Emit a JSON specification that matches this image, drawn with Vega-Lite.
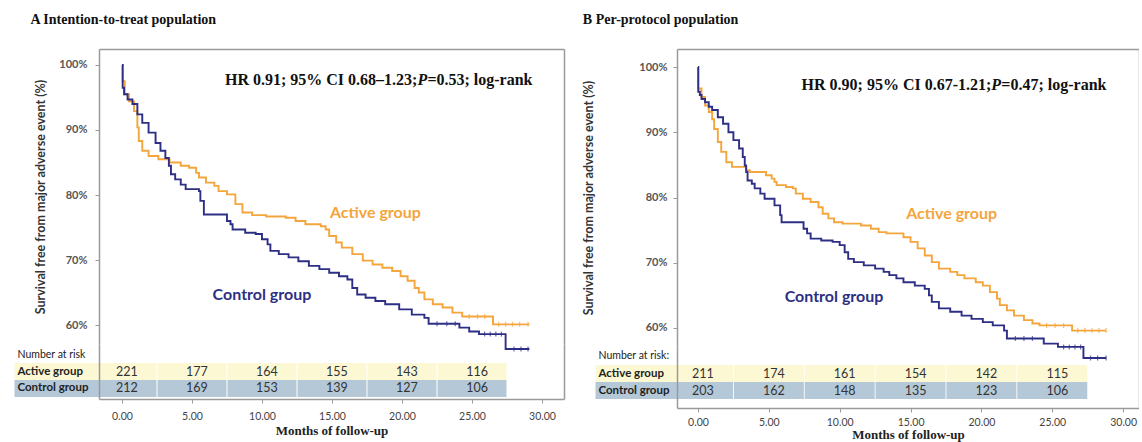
{
  "$schema": "https://vega.github.io/schema/vega-lite/v6.json",
  "background": "white",
  "padding": {"left": 5, "top": 13, "right": 0, "bottom": 0},
  "spacing": 18,
  "config": {
    "view": {"stroke": null},
    "axis": {"grid": false, "domainColor": "#9a9a9a", "domainWidth": 1.5, "tickColor": "#9a9a9a", "labelFont": "Lato", "titleFont": "Lato"},
    "text": {"font": "Lato"}
  },
  "datasets": {
    "km": [
      {"panel":"A","group":"Active group","time":0,"surv":100},{"panel":"A","group":"Active group","time":0.05,"surv":97.5},{"panel":"A","group":"Active group","time":0.2,"surv":95.5},{"panel":"A","group":"Active group","time":0.5,"surv":94.4},{"panel":"A","group":"Active group","time":0.86,"surv":92.9},{"panel":"A","group":"Active group","time":1.1,"surv":90.4},{"panel":"A","group":"Active group","time":1.2,"surv":88.3},{"panel":"A","group":"Active group","time":1.45,"surv":86.8},{"panel":"A","group":"Active group","time":1.9,"surv":86.0},{"panel":"A","group":"Active group","time":2.6,"surv":85.5},{"panel":"A","group":"Active group","time":3.4,"surv":85.0},{"panel":"A","group":"Active group","time":4.2,"surv":84.5},{"panel":"A","group":"Active group","time":4.8,"surv":84.2},{"panel":"A","group":"Active group","time":5.3,"surv":83.4},{"panel":"A","group":"Active group","time":5.5,"surv":82.7},{"panel":"A","group":"Active group","time":6.0,"surv":81.9},{"panel":"A","group":"Active group","time":6.6,"surv":81.4},{"panel":"A","group":"Active group","time":6.9,"surv":80.6},{"panel":"A","group":"Active group","time":7.5,"surv":80.1},{"panel":"A","group":"Active group","time":8.1,"surv":78.6},{"panel":"A","group":"Active group","time":8.6,"surv":77.3},{"panel":"A","group":"Active group","time":9.3,"surv":76.9},{"panel":"A","group":"Active group","time":10.3,"surv":76.7},{"panel":"A","group":"Active group","time":11.7,"surv":76.5},{"panel":"A","group":"Active group","time":12.4,"surv":76.0},{"panel":"A","group":"Active group","time":13.1,"surv":75.5},{"panel":"A","group":"Active group","time":14.2,"surv":75.2},{"panel":"A","group":"Active group","time":14.55,"surv":74.7},{"panel":"A","group":"Active group","time":14.8,"surv":73.7},{"panel":"A","group":"Active group","time":15.3,"surv":72.7},{"panel":"A","group":"Active group","time":15.7,"surv":71.9},{"panel":"A","group":"Active group","time":16.45,"surv":70.9},{"panel":"A","group":"Active group","time":17.2,"surv":69.9},{"panel":"A","group":"Active group","time":17.9,"surv":69.3},{"panel":"A","group":"Active group","time":18.6,"surv":68.8},{"panel":"A","group":"Active group","time":19.3,"surv":68.3},{"panel":"A","group":"Active group","time":19.9,"surv":67.5},{"panel":"A","group":"Active group","time":20.4,"surv":66.8},{"panel":"A","group":"Active group","time":20.9,"surv":65.7},{"panel":"A","group":"Active group","time":21.2,"surv":65.0},{"panel":"A","group":"Active group","time":21.6,"surv":63.95},{"panel":"A","group":"Active group","time":22.2,"surv":63.2},{"panel":"A","group":"Active group","time":22.9,"surv":62.7},{"panel":"A","group":"Active group","time":23.6,"surv":61.9},{"panel":"A","group":"Active group","time":24.3,"surv":61.3},{"panel":"A","group":"Active group","time":26.5,"surv":60.1},{"panel":"A","group":"Active group","time":29.1,"surv":60.1},
      {"panel":"A","group":"Control group","time":0,"surv":100},{"panel":"A","group":"Control group","time":0.05,"surv":96.5},{"panel":"A","group":"Control group","time":0.15,"surv":95.5},{"panel":"A","group":"Control group","time":0.4,"surv":94.7},{"panel":"A","group":"Control group","time":0.75,"surv":94.0},{"panel":"A","group":"Control group","time":1.1,"surv":92.4},{"panel":"A","group":"Control group","time":1.45,"surv":91.1},{"panel":"A","group":"Control group","time":1.9,"surv":89.6},{"panel":"A","group":"Control group","time":2.4,"surv":88.0},{"panel":"A","group":"Control group","time":2.75,"surv":86.8},{"panel":"A","group":"Control group","time":3.1,"surv":85.7},{"panel":"A","group":"Control group","time":3.35,"surv":84.5},{"panel":"A","group":"Control group","time":3.5,"surv":83.2},{"panel":"A","group":"Control group","time":3.8,"surv":82.4},{"panel":"A","group":"Control group","time":4.2,"surv":81.6},{"panel":"A","group":"Control group","time":4.55,"surv":80.9},{"panel":"A","group":"Control group","time":5.5,"surv":80.6},{"panel":"A","group":"Control group","time":5.6,"surv":79.1},{"panel":"A","group":"Control group","time":5.85,"surv":77.0},{"panel":"A","group":"Control group","time":7.5,"surv":76.0},{"panel":"A","group":"Control group","time":7.75,"surv":75.5},{"panel":"A","group":"Control group","time":7.9,"surv":74.7},{"panel":"A","group":"Control group","time":8.8,"surv":74.2},{"panel":"A","group":"Control group","time":9.55,"surv":74.0},{"panel":"A","group":"Control group","time":10.0,"surv":73.2},{"panel":"A","group":"Control group","time":10.4,"surv":72.4},{"panel":"A","group":"Control group","time":10.6,"surv":71.4},{"panel":"A","group":"Control group","time":11.2,"surv":70.9},{"panel":"A","group":"Control group","time":11.9,"surv":70.4},{"panel":"A","group":"Control group","time":12.6,"surv":69.8},{"panel":"A","group":"Control group","time":13.35,"surv":69.1},{"panel":"A","group":"Control group","time":14.1,"surv":68.6},{"panel":"A","group":"Control group","time":14.8,"surv":68.05},{"panel":"A","group":"Control group","time":15.5,"surv":67.5},{"panel":"A","group":"Control group","time":16.1,"surv":67.0},{"panel":"A","group":"Control group","time":16.45,"surv":65.7},{"panel":"A","group":"Control group","time":16.8,"surv":64.7},{"panel":"A","group":"Control group","time":17.4,"surv":64.2},{"panel":"A","group":"Control group","time":18.1,"surv":63.7},{"panel":"A","group":"Control group","time":18.8,"surv":63.2},{"panel":"A","group":"Control group","time":19.8,"surv":62.4},{"panel":"A","group":"Control group","time":20.7,"surv":61.6},{"panel":"A","group":"Control group","time":21.6,"surv":61.1},{"panel":"A","group":"Control group","time":21.9,"surv":60.2},{"panel":"A","group":"Control group","time":24.1,"surv":59.6},{"panel":"A","group":"Control group","time":24.8,"surv":59.0},{"panel":"A","group":"Control group","time":25.5,"surv":58.6},{"panel":"A","group":"Control group","time":27.4,"surv":56.3},{"panel":"A","group":"Control group","time":29.1,"surv":56.3},
      {"panel":"B","group":"Active group","time":0,"surv":100},{"panel":"B","group":"Active group","time":0.02,"surv":96.7},{"panel":"B","group":"Active group","time":0.25,"surv":95.4},{"panel":"B","group":"Active group","time":0.5,"surv":94.1},{"panel":"B","group":"Active group","time":0.76,"surv":93.1},{"panel":"B","group":"Active group","time":1.0,"surv":92.0},{"panel":"B","group":"Active group","time":1.14,"surv":90.5},{"panel":"B","group":"Active group","time":1.4,"surv":88.5},{"panel":"B","group":"Active group","time":1.64,"surv":87.0},{"panel":"B","group":"Active group","time":2.0,"surv":85.4},{"panel":"B","group":"Active group","time":2.4,"surv":84.7},{"panel":"B","group":"Active group","time":3.4,"surv":84.2},{"panel":"B","group":"Active group","time":3.66,"surv":83.9},{"panel":"B","group":"Active group","time":4.8,"surv":83.4},{"panel":"B","group":"Active group","time":5.2,"surv":82.9},{"panel":"B","group":"Active group","time":5.4,"surv":82.4},{"panel":"B","group":"Active group","time":5.55,"surv":81.9},{"panel":"B","group":"Active group","time":6.2,"surv":81.6},{"panel":"B","group":"Active group","time":6.7,"surv":81.4},{"panel":"B","group":"Active group","time":6.9,"surv":80.6},{"panel":"B","group":"Active group","time":7.4,"surv":79.8},{"panel":"B","group":"Active group","time":7.95,"surv":79.3},{"panel":"B","group":"Active group","time":8.5,"surv":78.5},{"panel":"B","group":"Active group","time":8.8,"surv":77.5},{"panel":"B","group":"Active group","time":9.2,"surv":76.8},{"panel":"B","group":"Active group","time":9.6,"surv":76.2},{"panel":"B","group":"Active group","time":10.2,"surv":76.0},{"panel":"B","group":"Active group","time":11.5,"surv":75.7},{"panel":"B","group":"Active group","time":12.2,"surv":75.2},{"panel":"B","group":"Active group","time":12.75,"surv":74.7},{"panel":"B","group":"Active group","time":13.3,"surv":74.5},{"panel":"B","group":"Active group","time":14.5,"surv":73.9},{"panel":"B","group":"Active group","time":15.0,"surv":73.2},{"panel":"B","group":"Active group","time":15.5,"surv":72.2},{"panel":"B","group":"Active group","time":16.0,"surv":71.1},{"panel":"B","group":"Active group","time":16.5,"surv":70.1},{"panel":"B","group":"Active group","time":17.0,"surv":69.1},{"panel":"B","group":"Active group","time":17.8,"surv":68.6},{"panel":"B","group":"Active group","time":18.3,"surv":68.1},{"panel":"B","group":"Active group","time":18.8,"surv":67.6},{"panel":"B","group":"Active group","time":19.6,"surv":67.0},{"panel":"B","group":"Active group","time":20.1,"surv":66.5},{"panel":"B","group":"Active group","time":20.6,"surv":65.5},{"panel":"B","group":"Active group","time":21.1,"surv":64.5},{"panel":"B","group":"Active group","time":21.3,"surv":63.5},{"panel":"B","group":"Active group","time":21.8,"surv":62.7},{"panel":"B","group":"Active group","time":22.3,"surv":61.9},{"panel":"B","group":"Active group","time":23.0,"surv":61.2},{"panel":"B","group":"Active group","time":23.6,"surv":60.7},{"panel":"B","group":"Active group","time":24.1,"surv":60.4},{"panel":"B","group":"Active group","time":26.4,"surv":59.6},{"panel":"B","group":"Active group","time":28.8,"surv":59.6},
      {"panel":"B","group":"Control group","time":0,"surv":100},{"panel":"B","group":"Control group","time":0.02,"surv":96.2},{"panel":"B","group":"Control group","time":0.13,"surv":95.7},{"panel":"B","group":"Control group","time":0.25,"surv":95.1},{"panel":"B","group":"Control group","time":0.5,"surv":94.6},{"panel":"B","group":"Control group","time":0.76,"surv":93.9},{"panel":"B","group":"Control group","time":1.0,"surv":93.4},{"panel":"B","group":"Control group","time":1.4,"surv":92.3},{"panel":"B","group":"Control group","time":1.77,"surv":91.3},{"panel":"B","group":"Control group","time":2.15,"surv":90.0},{"panel":"B","group":"Control group","time":2.5,"surv":88.8},{"panel":"B","group":"Control group","time":2.9,"surv":87.5},{"panel":"B","group":"Control group","time":3.16,"surv":86.2},{"panel":"B","group":"Control group","time":3.3,"surv":84.9},{"panel":"B","group":"Control group","time":3.4,"surv":83.9},{"panel":"B","group":"Control group","time":3.5,"surv":82.6},{"panel":"B","group":"Control group","time":3.8,"surv":82.1},{"panel":"B","group":"Control group","time":4.0,"surv":81.4},{"panel":"B","group":"Control group","time":4.4,"surv":80.6},{"panel":"B","group":"Control group","time":4.7,"surv":79.8},{"panel":"B","group":"Control group","time":5.4,"surv":78.8},{"panel":"B","group":"Control group","time":5.8,"surv":77.3},{"panel":"B","group":"Control group","time":5.9,"surv":76.2},{"panel":"B","group":"Control group","time":7.45,"surv":75.2},{"panel":"B","group":"Control group","time":7.7,"surv":74.5},{"panel":"B","group":"Control group","time":7.95,"surv":73.7},{"panel":"B","group":"Control group","time":8.7,"surv":73.4},{"panel":"B","group":"Control group","time":9.5,"surv":73.2},{"panel":"B","group":"Control group","time":10.0,"surv":72.7},{"panel":"B","group":"Control group","time":10.35,"surv":71.6},{"panel":"B","group":"Control group","time":10.6,"surv":70.6},{"panel":"B","group":"Control group","time":11.0,"surv":70.1},{"panel":"B","group":"Control group","time":11.7,"surv":69.6},{"panel":"B","group":"Control group","time":12.5,"surv":69.1},{"panel":"B","group":"Control group","time":13.1,"surv":68.6},{"panel":"B","group":"Control group","time":13.5,"surv":68.1},{"panel":"B","group":"Control group","time":14.0,"surv":67.6},{"panel":"B","group":"Control group","time":14.5,"surv":67.0},{"panel":"B","group":"Control group","time":15.3,"surv":66.5},{"panel":"B","group":"Control group","time":16.0,"surv":66.0},{"panel":"B","group":"Control group","time":16.3,"surv":65.0},{"panel":"B","group":"Control group","time":16.5,"surv":64.0},{"panel":"B","group":"Control group","time":17.0,"surv":63.0},{"panel":"B","group":"Control group","time":17.8,"surv":62.5},{"panel":"B","group":"Control group","time":18.6,"surv":61.9},{"panel":"B","group":"Control group","time":19.3,"surv":61.4},{"panel":"B","group":"Control group","time":20.1,"surv":60.9},{"panel":"B","group":"Control group","time":20.8,"surv":60.4},{"panel":"B","group":"Control group","time":21.6,"surv":59.6},{"panel":"B","group":"Control group","time":21.8,"surv":58.4},{"panel":"B","group":"Control group","time":24.4,"surv":57.6},{"panel":"B","group":"Control group","time":25.4,"surv":57.1},{"panel":"B","group":"Control group","time":27.2,"surv":55.4},{"panel":"B","group":"Control group","time":28.8,"surv":55.4}
    ],
    "censor": [
      {"panel":"A","group":"Active group","time":24.8,"surv":61.3},{"panel":"A","group":"Active group","time":25.4,"surv":61.3},{"panel":"A","group":"Active group","time":25.9,"surv":61.3},{"panel":"A","group":"Active group","time":26.9,"surv":60.1},{"panel":"A","group":"Active group","time":27.4,"surv":60.1},{"panel":"A","group":"Active group","time":27.9,"surv":60.1},{"panel":"A","group":"Active group","time":28.4,"surv":60.1},{"panel":"A","group":"Active group","time":29.0,"surv":60.1},
      {"panel":"A","group":"Control group","time":22.5,"surv":60.2},{"panel":"A","group":"Control group","time":23.2,"surv":60.2},{"panel":"A","group":"Control group","time":23.8,"surv":60.2},{"panel":"A","group":"Control group","time":25.9,"surv":58.6},{"panel":"A","group":"Control group","time":26.3,"surv":58.6},{"panel":"A","group":"Control group","time":26.7,"surv":58.6},{"panel":"A","group":"Control group","time":27.1,"surv":58.6},{"panel":"A","group":"Control group","time":28.0,"surv":56.3},{"panel":"A","group":"Control group","time":28.5,"surv":56.3},{"panel":"A","group":"Control group","time":29.0,"surv":56.3},
      {"panel":"B","group":"Active group","time":24.6,"surv":60.4},{"panel":"B","group":"Active group","time":25.2,"surv":60.4},{"panel":"B","group":"Active group","time":25.8,"surv":60.4},{"panel":"B","group":"Active group","time":26.8,"surv":59.6},{"panel":"B","group":"Active group","time":27.3,"surv":59.6},{"panel":"B","group":"Active group","time":27.8,"surv":59.6},{"panel":"B","group":"Active group","time":28.3,"surv":59.6},{"panel":"B","group":"Active group","time":28.8,"surv":59.6},
      {"panel":"B","group":"Control group","time":22.4,"surv":58.4},{"panel":"B","group":"Control group","time":23.0,"surv":58.4},{"panel":"B","group":"Control group","time":23.6,"surv":58.4},{"panel":"B","group":"Control group","time":25.8,"surv":57.1},{"panel":"B","group":"Control group","time":26.2,"surv":57.1},{"panel":"B","group":"Control group","time":26.6,"surv":57.1},{"panel":"B","group":"Control group","time":27.0,"surv":57.1},{"panel":"B","group":"Control group","time":27.7,"surv":55.4},{"panel":"B","group":"Control group","time":28.2,"surv":55.4},{"panel":"B","group":"Control group","time":28.8,"surv":55.4}
    ],
    "risk": [
      {"panel":"A","row":"Active group","time":0,"n":221},{"panel":"A","row":"Active group","time":5,"n":177},{"panel":"A","row":"Active group","time":10,"n":164},{"panel":"A","row":"Active group","time":15,"n":155},{"panel":"A","row":"Active group","time":20,"n":143},{"panel":"A","row":"Active group","time":25,"n":116},
      {"panel":"A","row":"Control group","time":0,"n":212},{"panel":"A","row":"Control group","time":5,"n":169},{"panel":"A","row":"Control group","time":10,"n":153},{"panel":"A","row":"Control group","time":15,"n":139},{"panel":"A","row":"Control group","time":20,"n":127},{"panel":"A","row":"Control group","time":25,"n":106},
      {"panel":"B","row":"Active group","time":0,"n":211},{"panel":"B","row":"Active group","time":5,"n":174},{"panel":"B","row":"Active group","time":10,"n":161},{"panel":"B","row":"Active group","time":15,"n":154},{"panel":"B","row":"Active group","time":20,"n":142},{"panel":"B","row":"Active group","time":25,"n":115},
      {"panel":"B","row":"Control group","time":0,"n":203},{"panel":"B","row":"Control group","time":5,"n":162},{"panel":"B","row":"Control group","time":10,"n":148},{"panel":"B","row":"Control group","time":15,"n":135},{"panel":"B","row":"Control group","time":20,"n":123},{"panel":"B","row":"Control group","time":25,"n":106}
    ]
  },
  "hconcat": [
    {
      "title": {"text": "A  Intention-to-treat population", "anchor": "start", "frame": "bounds", "font": "Liberation Serif", "fontSize": 14, "fontWeight": "bold", "color": "#111111", "dx": 25, "offset": 22},
      "spacing": 0,
      "bounds": "flush",
      "vconcat": [
        {
          "width": 465, "height": 295,
          "layer": [
            {
              "data": {"name": "km"}, "transform": [{"filter": "datum.panel === 'A'"}],
              "mark": {"type": "line", "interpolate": "step-after", "strokeWidth": 1.9},
              "encoding": {
                "x": {"field": "time", "type": "quantitative", "scale": {"domain": [-1.64, 31.57], "nice": false, "zero": false},
                      "axis": {"orient": "top", "labels": false, "ticks": false, "title": null}},
                "y": {"field": "surv", "type": "quantitative", "scale": {"domain": [57.08, 102.46], "nice": false, "zero": false},
                      "axis": {"values": [60, 70, 80, 90, 100], "labelExpr": "datum.value + '%'", "tickSize": 4, "labelPadding": 8, "labelFontSize": 11, "labelFontWeight": "bold", "labelColor": "#555555",
                               "title": "Survival free from major adverse event (%)", "titleFontSize": 12.5, "titleFontWeight": "bold", "titleColor": "#333333", "titlePadding": 11}},
                "color": {"field": "group", "type": "nominal", "scale": {"domain": ["Active group", "Control group"], "range": ["#f4a53c", "#2d2f85"]}, "legend": null}
              }
            },
            {
              "data": {"name": "censor"}, "transform": [{"filter": "datum.panel === 'A'"}],
              "mark": {"type": "tick", "orient": "vertical", "size": 5, "thickness": 1.2},
              "encoding": {
                "x": {"field": "time", "type": "quantitative"},
                "y": {"field": "surv", "type": "quantitative", "axis": {"orient": "right", "labels": false, "ticks": false, "title": null}},
                "color": {"field": "group", "type": "nominal", "legend": null}
              }
            },
            {
              "data": {"values": [{}]},
              "mark": {"type": "text", "align": "center", "baseline": "middle", "fontSize": 16, "fontWeight": "bold", "color": "#f4a53c"},
              "encoding": {"x": {"datum": 18.1}, "y": {"datum": 77.2, "axis": null}, "text": {"value": "Active group"}}
            },
            {
              "data": {"values": [{}]},
              "mark": {"type": "text", "align": "center", "baseline": "middle", "fontSize": 16, "fontWeight": "bold", "color": "#2d2f85"},
              "encoding": {"x": {"datum": 10.0}, "y": {"datum": 64.6, "axis": null}, "text": {"value": "Control group"}}
            },
            {
              "data": {"values": [{}]},
              "mark": {"type": "text", "align": "right", "baseline": "middle", "font": "Liberation Serif", "fontSize": 16, "fontWeight": "bold", "color": "#111111"},
              "encoding": {"x": {"datum": 21.1}, "y": {"datum": 97.7, "axis": null}, "text": {"value": "HR 0.91; 95% CI 0.68–1.23;"}}
            },
            {
              "data": {"values": [{}]},
              "mark": {"type": "text", "align": "left", "baseline": "middle", "font": "Liberation Serif", "fontSize": 16, "fontWeight": "bold", "fontStyle": "italic", "color": "#111111"},
              "encoding": {"x": {"datum": 21.1}, "y": {"datum": 97.7, "axis": null}, "text": {"value": "P"}}
            },
            {
              "data": {"values": [{}]},
              "mark": {"type": "text", "align": "left", "baseline": "middle", "dx": 10, "font": "Liberation Serif", "fontSize": 16, "fontWeight": "bold", "color": "#111111"},
              "encoding": {"x": {"datum": 21.1}, "y": {"datum": 97.7, "axis": null}, "text": {"value": "=0.53; log-rank"}}
            }
          ],
          "resolve": {"axis": {"y": "independent"}}
        },
        {
          "width": 465, "height": 55,
          "layer": [
            {
              "data": {"name": "risk"}, "transform": [{"filter": "datum.panel === 'A'"}],
              "mark": {"type": "rect", "width": 69},
              "encoding": {
                "x": {"field": "time", "type": "quantitative", "scale": {"domain": [-1.64, 31.57], "nice": false, "zero": false},
                      "axis": {"values": [0, 5, 10, 15, 20, 25, 30], "format": ".2f", "tickSize": 4, "labelPadding": 8, "labelFontSize": 10.5, "labelColor": "#444444",
                               "title": "Months of follow-up", "titleFont": "Liberation Serif", "titleFontSize": 13, "titleFontWeight": "bold", "titleColor": "#222222", "titlePadding": 3}},
                "y": {"field": "row", "type": "nominal", "scale": {"type": "band", "domain": ["Number at risk", "Active group", "Control group"], "paddingInner": 0, "paddingOuter": 0.12, "align": 0.5},
                      "axis": {"title": null, "tickSize": 85, "tickWidth": 17,
                               "tickColor": {"condition": {"test": "datum.value === 'Active group'", "value": "#fcf8d4"}, "value": "#b4c8d8"},
                               "tickOpacity": {"condition": {"test": "datum.value === 'Number at risk'", "value": 0}, "value": 1},
                               "labelAlign": "left", "labelPadding": -3, "labelColor": "#222222",
                               "labelFontSize": {"condition": {"test": "datum.value === 'Number at risk'", "value": 10.5}, "value": 11.5},
                               "labelFontWeight": {"condition": {"test": "datum.value === 'Number at risk'", "value": "normal"}, "value": "bold"}}},
                "fill": {"field": "row", "type": "nominal", "scale": {"domain": ["Active group", "Control group"], "range": ["#fcf8d4", "#b4c8d8"]}, "legend": null}
              }
            },
            {
              "data": {"name": "risk"}, "transform": [{"filter": "datum.panel === 'A'"}],
              "mark": {"type": "text", "dx": 5, "fontSize": 12.5, "color": "#333333"},
              "encoding": {
                "x": {"field": "time", "type": "quantitative"},
                "y": {"field": "row", "type": "nominal", "axis": {"orient": "right", "labels": false, "ticks": false, "title": null}},
                "text": {"field": "n", "type": "quantitative"}
              }
            }
          ],
          "resolve": {"axis": {"y": "independent"}}
        }
      ]
    },
    {
      "title": {"text": "B  Per-protocol population", "anchor": "start", "frame": "bounds", "font": "Liberation Serif", "fontSize": 14, "fontWeight": "bold", "color": "#111111", "dx": 0, "offset": 22},
      "spacing": 0,
      "bounds": "flush",
      "vconcat": [
        {
          "width": 462, "height": 297,
          "layer": [
            {
              "data": {"name": "km"}, "transform": [{"filter": "datum.panel === 'B'"}],
              "mark": {"type": "line", "interpolate": "step-after", "strokeWidth": 1.9},
              "encoding": {
                "x": {"field": "time", "type": "quantitative", "scale": {"domain": [-1.48, 31.12], "nice": false, "zero": false},
                      "axis": {"orient": "top", "labels": false, "ticks": false, "title": null}},
                "y": {"field": "surv", "type": "quantitative", "scale": {"domain": [57.24, 102.76], "nice": false, "zero": false},
                      "axis": {"values": [60, 70, 80, 90, 100], "labelExpr": "datum.value + '%'", "tickSize": 4, "labelPadding": 6, "labelFontSize": 11, "labelFontWeight": "bold", "labelColor": "#555555",
                               "title": "Survival free from major adverse event (%)", "titleFontSize": 12.5, "titleFontWeight": "bold", "titleColor": "#333333", "titlePadding": 43}},
                "color": {"field": "group", "type": "nominal", "scale": {"domain": ["Active group", "Control group"], "range": ["#f4a53c", "#2d2f85"]}, "legend": null}
              }
            },
            {
              "data": {"name": "censor"}, "transform": [{"filter": "datum.panel === 'B'"}],
              "mark": {"type": "tick", "orient": "vertical", "size": 5, "thickness": 1.2},
              "encoding": {
                "x": {"field": "time", "type": "quantitative"},
                "y": {"field": "surv", "type": "quantitative", "axis": {"orient": "right", "labels": false, "ticks": false, "title": null}},
                "color": {"field": "group", "type": "nominal", "legend": null}
              }
            },
            {
              "data": {"values": [{}]},
              "mark": {"type": "text", "align": "center", "baseline": "middle", "fontSize": 16, "fontWeight": "bold", "color": "#f4a53c"},
              "encoding": {"x": {"datum": 17.9}, "y": {"datum": 77.4, "axis": null}, "text": {"value": "Active group"}}
            },
            {
              "data": {"values": [{}]},
              "mark": {"type": "text", "align": "center", "baseline": "middle", "fontSize": 16, "fontWeight": "bold", "color": "#2d2f85"},
              "encoding": {"x": {"datum": 9.6}, "y": {"datum": 64.75, "axis": null}, "text": {"value": "Control group"}}
            },
            {
              "data": {"values": [{}]},
              "mark": {"type": "text", "align": "right", "baseline": "middle", "font": "Liberation Serif", "fontSize": 16, "fontWeight": "bold", "color": "#111111"},
              "encoding": {"x": {"datum": 20.7}, "y": {"datum": 97.2, "axis": null}, "text": {"value": "HR 0.90; 95% CI 0.67-1.21;"}}
            },
            {
              "data": {"values": [{}]},
              "mark": {"type": "text", "align": "left", "baseline": "middle", "font": "Liberation Serif", "fontSize": 16, "fontWeight": "bold", "fontStyle": "italic", "color": "#111111"},
              "encoding": {"x": {"datum": 20.7}, "y": {"datum": 97.2, "axis": null}, "text": {"value": "P"}}
            },
            {
              "data": {"values": [{}]},
              "mark": {"type": "text", "align": "left", "baseline": "middle", "dx": 10, "font": "Liberation Serif", "fontSize": 16, "fontWeight": "bold", "color": "#111111"},
              "encoding": {"x": {"datum": 20.7}, "y": {"datum": 97.2, "axis": null}, "text": {"value": "=0.47; log-rank"}}
            }
          ],
          "resolve": {"axis": {"y": "independent"}}
        },
        {
          "width": 462, "height": 62,
          "layer": [
            {
              "data": {"name": "risk"}, "transform": [{"filter": "datum.panel === 'B'"}],
              "mark": {"type": "rect", "width": 70},
              "encoding": {
                "x": {"field": "time", "type": "quantitative", "scale": {"domain": [-1.48, 31.12], "nice": false, "zero": false},
                      "axis": {"values": [0, 5, 10, 15, 20, 25, 30], "format": ".2f", "tickSize": 4, "labelPadding": 5, "labelFontSize": 10.5, "labelColor": "#444444",
                               "title": "Months of follow-up", "titleFont": "Liberation Serif", "titleFontSize": 13, "titleFontWeight": "bold", "titleColor": "#222222", "titlePadding": 1}},
                "y": {"field": "row", "type": "nominal", "scale": {"type": "band", "domain": ["Number at risk:", "Active group", "Control group"], "paddingInner": 0, "paddingOuter": 0.32, "align": 0.18},
                      "axis": {"title": null, "tickSize": 82, "tickWidth": 17,
                               "tickColor": {"condition": {"test": "datum.value === 'Active group'", "value": "#fcf8d4"}, "value": "#b4c8d8"},
                               "tickOpacity": {"condition": {"test": "datum.value === 'Number at risk:'", "value": 0}, "value": 1},
                               "labelAlign": "left", "labelPadding": -3, "labelColor": "#222222",
                               "labelFontSize": {"condition": {"test": "datum.value === 'Number at risk:'", "value": 10.5}, "value": 11.5},
                               "labelFontWeight": {"condition": {"test": "datum.value === 'Number at risk:'", "value": "normal"}, "value": "bold"}}},
                "fill": {"field": "row", "type": "nominal", "scale": {"domain": ["Active group", "Control group"], "range": ["#fcf8d4", "#b4c8d8"]}, "legend": null}
              }
            },
            {
              "data": {"name": "risk"}, "transform": [{"filter": "datum.panel === 'B'"}],
              "mark": {"type": "text", "dx": 5, "fontSize": 12.5, "color": "#333333"},
              "encoding": {
                "x": {"field": "time", "type": "quantitative"},
                "y": {"field": "row", "type": "nominal", "axis": {"orient": "right", "labels": false, "ticks": false, "title": null}},
                "text": {"field": "n", "type": "quantitative"}
              }
            }
          ],
          "resolve": {"axis": {"y": "independent"}}
        }
      ]
    }
  ]
}
